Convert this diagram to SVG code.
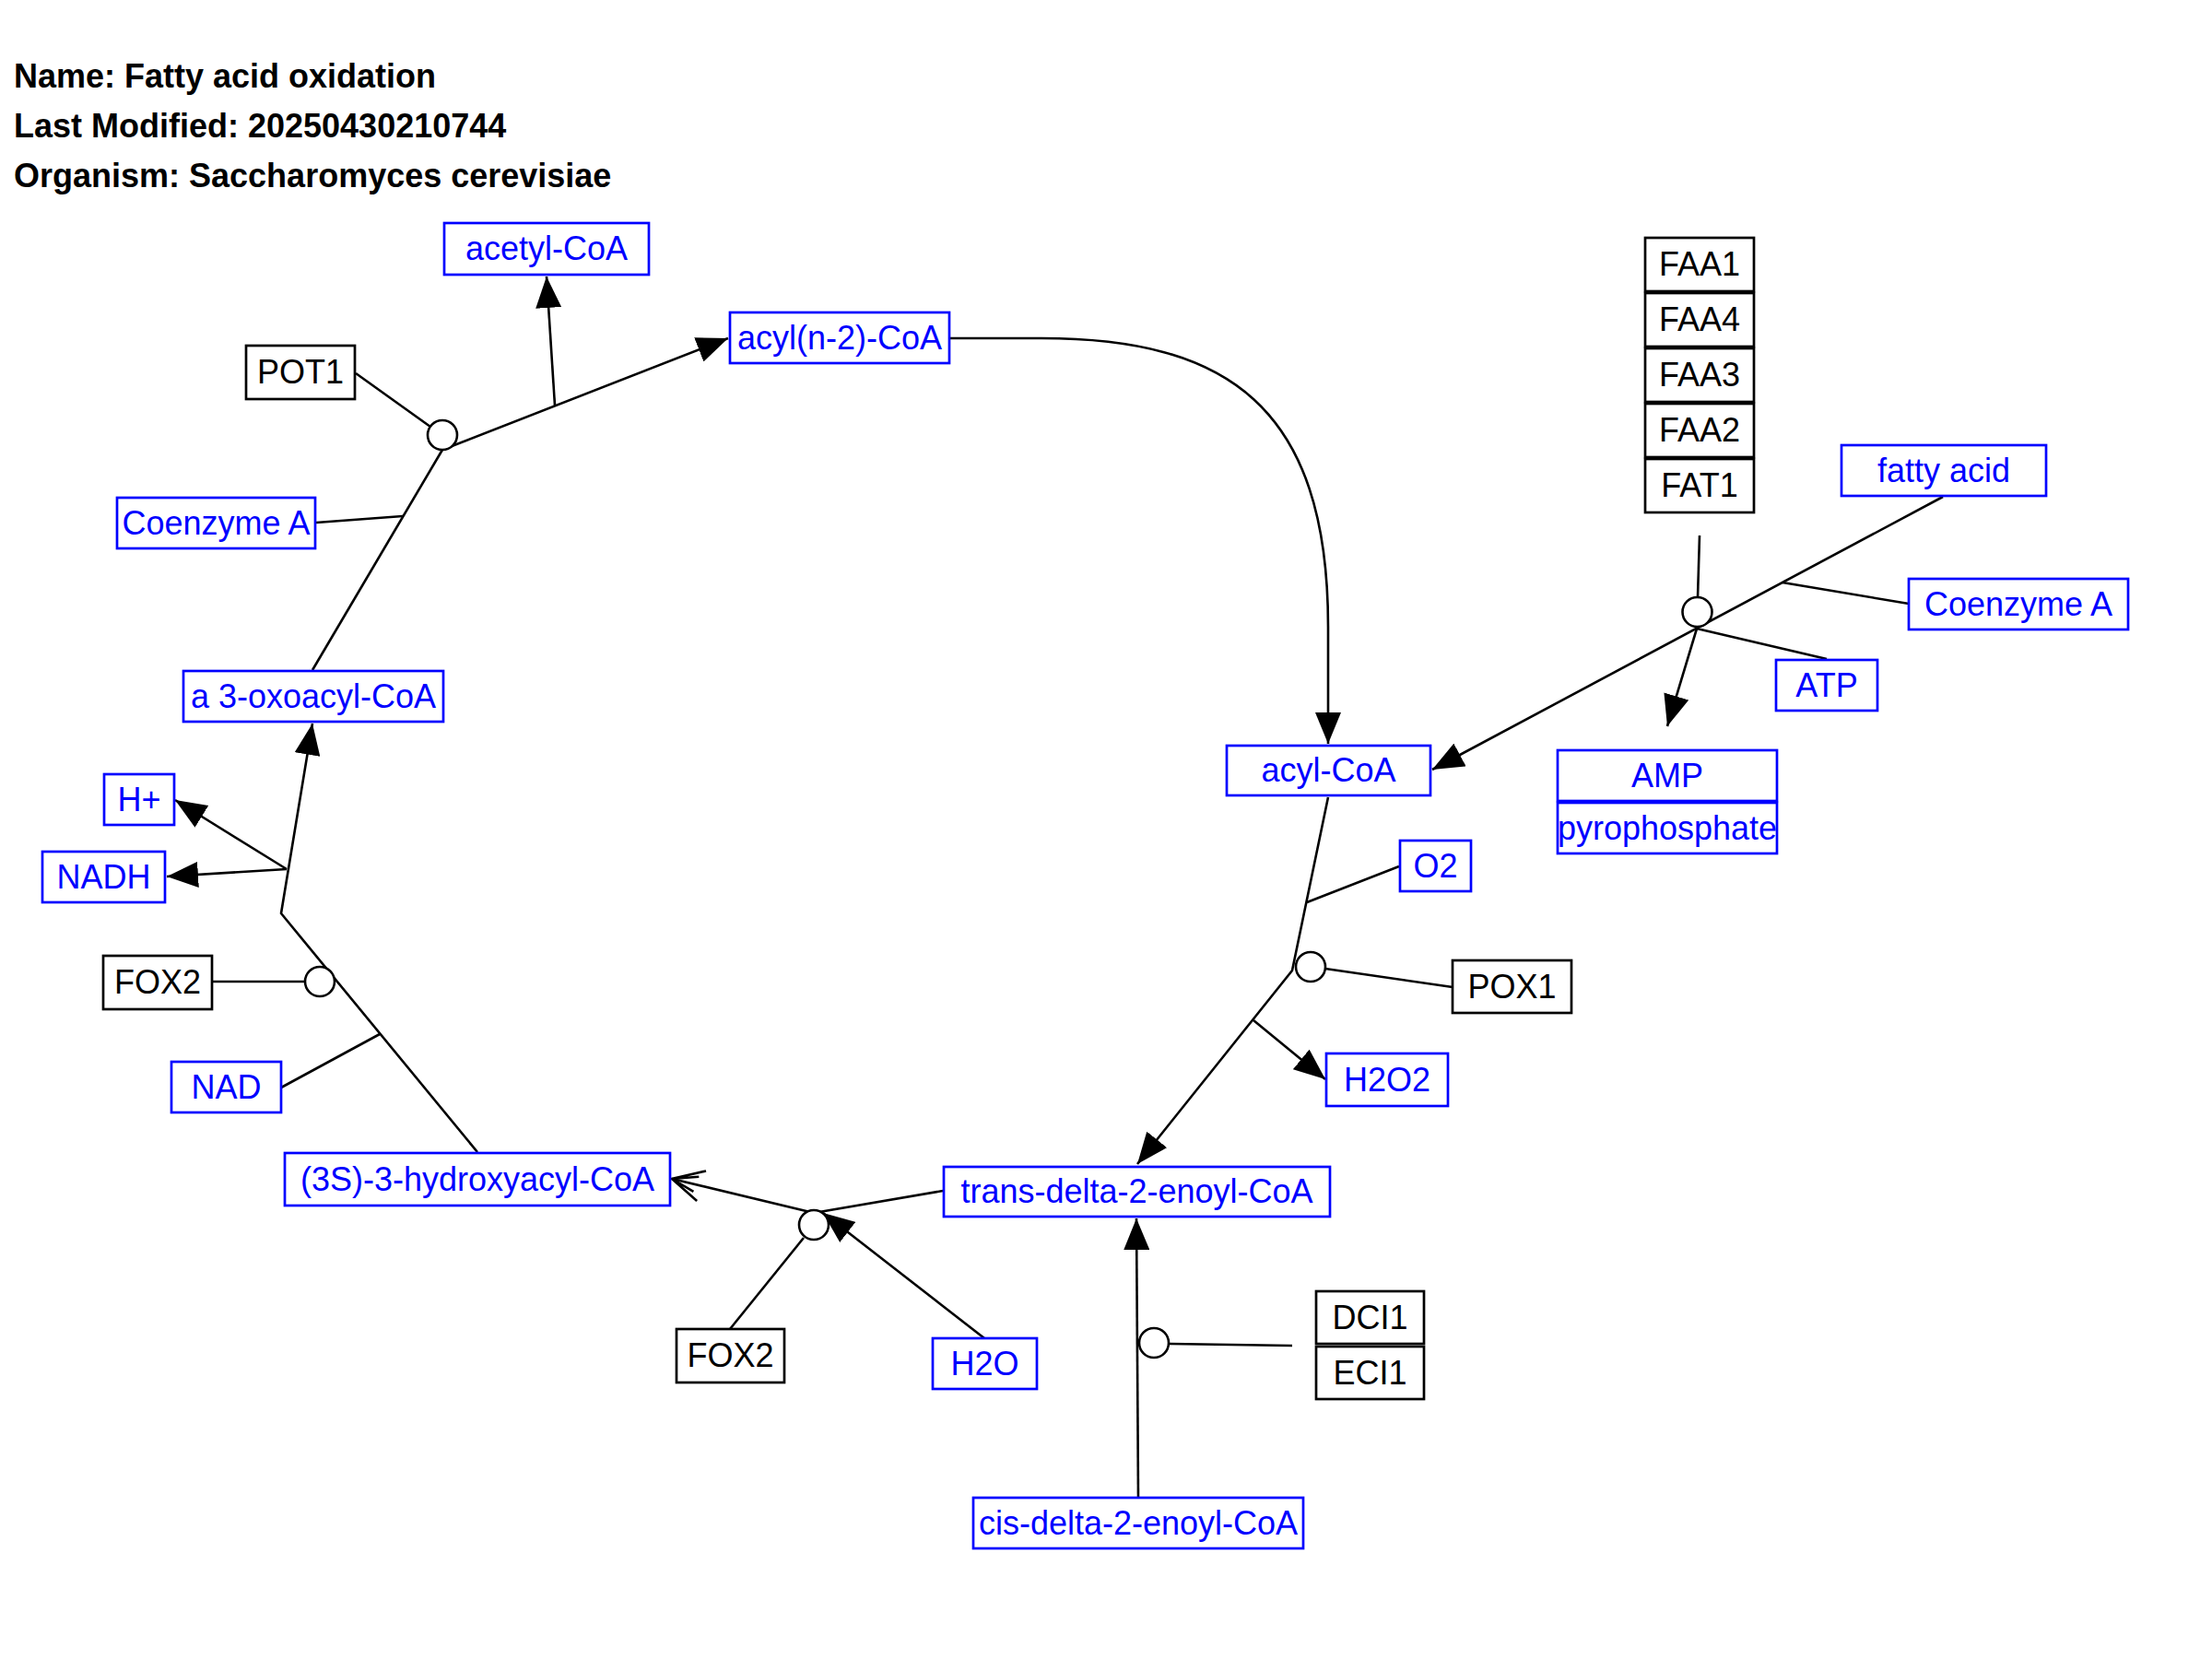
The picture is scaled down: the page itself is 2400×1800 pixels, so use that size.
<svg xmlns="http://www.w3.org/2000/svg" width="2400" height="1800" viewBox="0 0 2400 1800">
<style>
.hdr{font-family:"Liberation Sans",Arial,sans-serif;font-weight:bold;font-size:36px;fill:#000}
.m rect{fill:#fff;stroke:#0000ff;stroke-width:2.7}
.m text{font-family:"Liberation Sans",Arial,sans-serif;font-size:36px;fill:#0000ff;text-anchor:middle}
.g rect{fill:#fff;stroke:#000;stroke-width:2.7}
.g text{font-family:"Liberation Sans",Arial,sans-serif;font-size:36px;fill:#000;text-anchor:middle}
.c line,.c path,.c polyline{fill:none;stroke:#000;stroke-width:2.6}
.c circle{fill:#fff;stroke:#000;stroke-width:2.6}
.a{marker-end:url(#arr)}
.o{marker-end:url(#open)}
</style>
<defs>
<marker id="arr" markerUnits="userSpaceOnUse" viewBox="0 0 34 28" markerWidth="34" markerHeight="28" refX="34" refY="14" orient="auto">
<path d="M0,0 L34,14 L0,28 z" fill="#000"/>
</marker>
<marker id="open" markerUnits="userSpaceOnUse" viewBox="-2 -2 38 38" markerWidth="38" markerHeight="38" refX="34" refY="17" orient="auto">
<path d="M2,0 L34,17 L0,34 M34,17 L8,9 M34,17 L6,26" fill="none" stroke="#000" stroke-width="2.6"/>
</marker>
</defs>
<rect x="0" y="0" width="2400" height="1800" fill="#fff"/>
<g id="header">
<text class="hdr" x="15" y="95">Name: Fatty acid oxidation</text>
<text class="hdr" x="15" y="149">Last Modified: 20250430210744</text>
<text class="hdr" x="15" y="203">Organism: Saccharomyces cerevisiae</text>
</g>
<g id="connectors" class="c">
<!-- thiolase POT1 -->
<line x1="339" y1="727" x2="480" y2="488"/>
<line class="a" x1="480" y1="488" x2="790" y2="367"/>
<line class="a" x1="602" y1="440" x2="593" y2="300"/>
<line x1="343" y1="567" x2="437" y2="560"/>
<line x1="386" y1="405" x2="467" y2="463"/>
<circle cx="480" cy="472" r="16"/>
<!-- acyl(n-2)-CoA to acyl-CoA -->
<path class="a" d="M1031,367 H1130 C1330,367 1441,440 1441,680 V807"/>
<!-- acyl-CoA synthetase -->
<line class="a" x1="2108" y1="539" x2="1554" y2="835"/>
<line x1="1934" y1="632" x2="2071" y2="655"/>
<line x1="1844" y1="581" x2="1842" y2="648"/>
<line x1="1841" y1="682" x2="1982" y2="715"/>
<line class="a" x1="1841" y1="682" x2="1809" y2="788"/>
<circle cx="1841.5" cy="664" r="16"/>
<!-- POX1 -->
<polyline class="a" points="1441,865 1402,1053 1234,1263"/>
<line x1="1518" y1="940" x2="1418" y2="979"/>
<line x1="1438" y1="1051" x2="1576" y2="1071"/>
<line class="a" x1="1360" y1="1107" x2="1438" y2="1171"/>
<circle cx="1422" cy="1049" r="16"/>
<!-- DCI1/ECI1 -->
<line class="a" x1="1235" y1="1625" x2="1233" y2="1322"/>
<line x1="1268" y1="1458" x2="1402" y2="1460"/>
<circle cx="1252" cy="1457" r="16"/>
<!-- FOX2 hydratase -->
<line x1="1023" y1="1292" x2="883" y2="1316"/>
<line class="o" x1="883" y1="1316" x2="729" y2="1279"/>
<line class="a" x1="1068" y1="1452" x2="893" y2="1316"/>
<line x1="792" y1="1442" x2="872" y2="1343"/>
<circle cx="883" cy="1329" r="16"/>
<!-- FOX2 dehydrogenase -->
<polyline class="a" points="518,1250 305,991 339,785"/>
<line class="a" x1="311" y1="943" x2="190" y2="868"/>
<line class="a" x1="311" y1="943" x2="181" y2="951"/>
<line x1="305" y1="1180" x2="412" y2="1122"/>
<line x1="230" y1="1065" x2="331" y2="1065"/>
<circle cx="347" cy="1065" r="16"/>
</g>
<g id="n-acetylCoA" class="m"><rect x="482" y="242" width="222" height="56"/><text x="593" y="282">acetyl-CoA</text></g>
<g id="n-acylN2CoA" class="m"><rect x="792" y="339" width="238" height="55"/><text x="911" y="378.5">acyl(n-2)-CoA</text></g>
<g id="n-POT1" class="g"><rect x="267" y="375" width="118" height="58"/><text x="326" y="416">POT1</text></g>
<g id="n-CoA1" class="m"><rect x="127" y="540" width="215" height="55"/><text x="234.5" y="579.5">Coenzyme A</text></g>
<g id="n-oxoacyl" class="m"><rect x="199" y="728" width="282" height="55"/><text x="340" y="767.5">a 3-oxoacyl-CoA</text></g>
<g id="n-Hplus" class="m"><rect x="113" y="840" width="76" height="55"/><text x="151" y="879.5">H+</text></g>
<g id="n-NADH" class="m"><rect x="46" y="924" width="133" height="55"/><text x="112.5" y="963.5">NADH</text></g>
<g id="n-FOX2a" class="g"><rect x="112" y="1037" width="118" height="58"/><text x="171" y="1078">FOX2</text></g>
<g id="n-NAD" class="m"><rect x="186" y="1152" width="119" height="55"/><text x="245.5" y="1191.5">NAD</text></g>
<g id="n-hydroxyacyl" class="m"><rect x="309" y="1251" width="418" height="57"/><text x="518" y="1291.5">(3S)-3-hydroxyacyl-CoA</text></g>
<g id="n-FOX2b" class="g"><rect x="734" y="1442" width="117" height="58"/><text x="792.5" y="1483">FOX2</text></g>
<g id="n-H2O" class="m"><rect x="1012" y="1452" width="113" height="55"/><text x="1068.5" y="1491.5">H2O</text></g>
<g id="n-trans" class="m"><rect x="1024" y="1266" width="419" height="54"/><text x="1233.5" y="1305">trans-delta-2-enoyl-CoA</text></g>
<g id="n-DCI1" class="g"><rect x="1428" y="1401" width="117" height="57"/><text x="1486.5" y="1441.5">DCI1</text></g>
<g id="n-ECI1" class="g"><rect x="1428" y="1461" width="117" height="57"/><text x="1486.5" y="1501.5">ECI1</text></g>
<g id="n-cis" class="m"><rect x="1056" y="1625" width="358" height="55"/><text x="1235" y="1664.5">cis-delta-2-enoyl-CoA</text></g>
<g id="n-acylCoA" class="m"><rect x="1331" y="809" width="221" height="54"/><text x="1441.5" y="848">acyl-CoA</text></g>
<g id="n-O2" class="m"><rect x="1519" y="912" width="77" height="55"/><text x="1557.5" y="951.5">O2</text></g>
<g id="n-POX1" class="g"><rect x="1576" y="1042" width="129" height="57"/><text x="1640.5" y="1082.5">POX1</text></g>
<g id="n-H2O2" class="m"><rect x="1439" y="1143" width="132" height="57"/><text x="1505" y="1183.5">H2O2</text></g>
<g id="n-FAA1" class="g"><rect x="1785" y="258" width="118" height="58"/><text x="1844" y="299">FAA1</text></g>
<g id="n-FAA4" class="g"><rect x="1785" y="318" width="118" height="58"/><text x="1844" y="359">FAA4</text></g>
<g id="n-FAA3" class="g"><rect x="1785" y="378" width="118" height="58"/><text x="1844" y="419">FAA3</text></g>
<g id="n-FAA2" class="g"><rect x="1785" y="438" width="118" height="58"/><text x="1844" y="479">FAA2</text></g>
<g id="n-FAT1" class="g"><rect x="1785" y="498" width="118" height="58"/><text x="1844" y="539">FAT1</text></g>
<g id="n-fattyacid" class="m"><rect x="1998" y="483" width="222" height="55"/><text x="2109" y="522.5">fatty acid</text></g>
<g id="n-CoA2" class="m"><rect x="2071" y="628" width="238" height="55"/><text x="2190" y="667.5">Coenzyme A</text></g>
<g id="n-ATP" class="m"><rect x="1927" y="716" width="110" height="55"/><text x="1982" y="755.5">ATP</text></g>
<g id="n-AMP" class="m"><rect x="1690" y="814" width="238" height="55"/><text x="1809" y="853.5">AMP</text></g>
<g id="n-PPi" class="m"><rect x="1690" y="871" width="238" height="55"/><text x="1809" y="910.5">pyrophosphate</text></g>
</svg>
